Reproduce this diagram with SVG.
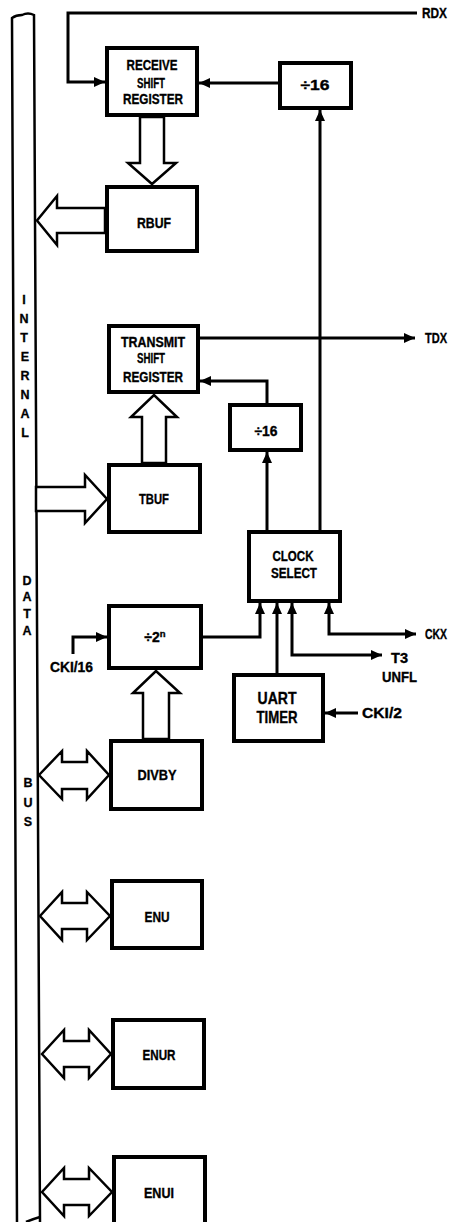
<svg xmlns="http://www.w3.org/2000/svg" width="455" height="1222" viewBox="0 0 455 1222">
<defs>
<marker id="ah" viewBox="0 0 11 10" markerUnits="userSpaceOnUse" markerWidth="11" markerHeight="10" refX="11" refY="5" orient="auto-start-reverse">
<path d="M0,0 L11,5 L0,10 z" fill="#000"/>
</marker>
<style>
.box{fill:#fff;stroke:#000;stroke-width:4}
.ln{fill:none;stroke:#000;stroke-width:3}
.hol{fill:#fff;stroke:#000;stroke-width:2.5;stroke-linejoin:miter}
.t{font-family:"Liberation Sans",Arial,sans-serif;font-weight:bold;font-size:14.5px;text-anchor:middle;fill:#000;stroke:#000;stroke-width:0.35}
.s{text-anchor:start}
.big{font-size:16.5px}
.bl{font-family:"Liberation Sans",Arial,sans-serif;font-weight:bold;font-size:12.5px;text-anchor:middle;fill:#000;stroke:#000;stroke-width:0.3}
</style>
</defs>
<rect width="455" height="1222" fill="#fff"/>

<g id="bus">
<path class="ln" style="stroke-width:2.5" d="M17,1222 L12,18 Q16,15 22,15 Q28,12 34,15 L40,1222"/>
<path class="ln" style="stroke-width:2.5" d="M26,1222 Q33,1219 40,1217"/>
<text class="bl" x="24" y="304">I</text>
<text class="bl" x="24" y="323">N</text>
<text class="bl" x="24" y="342">T</text>
<text class="bl" x="25" y="361">E</text>
<text class="bl" x="25" y="380">R</text>
<text class="bl" x="25" y="399">N</text>
<text class="bl" x="25" y="418">A</text>
<text class="bl" x="25" y="437">L</text>
<text class="bl" x="27" y="585">D</text>
<text class="bl" x="27" y="601">A</text>
<text class="bl" x="27" y="618">T</text>
<text class="bl" x="27" y="635">A</text>
<text class="bl" x="28" y="787">B</text>
<text class="bl" x="28" y="807">U</text>
<text class="bl" x="28" y="826">S</text>
</g>

<g id="connectors">
<path class="ln" d="M417,13 H68 V82 H105" marker-end="url(#ah)"/>
<path class="ln" d="M278,83 H199" marker-end="url(#ah)"/>
<path class="ln" d="M320,530 V110" marker-end="url(#ah)"/>
<path class="ln" d="M200,338 H415" marker-end="url(#ah)"/>
<path class="ln" d="M267,403 V381 H200" marker-end="url(#ah)"/>
<path class="ln" d="M267,530 V452" marker-end="url(#ah)"/>
<path class="ln" d="M73,654 V637 H107" marker-end="url(#ah)"/>
<path class="ln" d="M203,637 H260 V603" marker-end="url(#ah)"/>
<path class="ln" d="M277,673 V603" marker-end="url(#ah)"/>
<path class="ln" d="M292,603 V655 H382" marker-start="url(#ah)" marker-end="url(#ah)"/>
<path class="ln" d="M329,603 V634 H416" marker-start="url(#ah)" marker-end="url(#ah)"/>
<path class="ln" d="M358,713 H325" marker-end="url(#ah)"/>
<polygon class="hol" points="140,117 140,163 128,163 152,184 176,163 164,163 164,117"/>
<polygon class="hol" points="105,208 57,208 57,196 37,220.5 57,245 57,233 105,233"/>
<polygon class="hol" points="142,463 142,417 131,417 154,395 177,417 166,417 166,463"/>
<polygon class="hol" points="36,487 85,487 85,475 107,499 85,523 85,511 36,511"/>
<polygon class="hol" points="143,739 143,693 133,693 156,671 180,693 169,693 169,739"/>
<polygon class="hol" points="39,775 62,751 62,762 87,762 87,751 109,775 87,799 87,789 62,789 62,799"/>
<polygon class="hol" points="40,916 62,892 62,903 87,903 87,892 110,916 87,940 87,929 62,929 62,940"/>
<polygon class="hol" points="42,1054 64,1030 64,1041 89,1041 89,1030 111,1054 89,1078 89,1067 64,1067 64,1078"/>
<polygon class="hol" points="42,1192 64,1168 64,1179 89,1179 89,1168 112,1192 89,1216 89,1205 64,1205 64,1216"/>
<text class="t s" x="422" y="18" textLength="25" lengthAdjust="spacingAndGlyphs">RDX</text>
<text class="t s" x="425" y="343" textLength="22" lengthAdjust="spacingAndGlyphs">TDX</text>
<text class="t s" x="50" y="672" textLength="43" lengthAdjust="spacingAndGlyphs">CKI/16</text>
<text class="t s" x="391" y="663" textLength="17" lengthAdjust="spacingAndGlyphs">T3</text>
<text class="t s" x="382" y="682" textLength="35" lengthAdjust="spacingAndGlyphs">UNFL</text>
<text class="t s" x="425" y="639" textLength="22" lengthAdjust="spacingAndGlyphs">CKX</text>
<text class="t s" x="362" y="718" textLength="40" lengthAdjust="spacingAndGlyphs">CKI/2</text>
</g>

<g id="rsr">
<rect class="box" x="107" y="48" width="90" height="67"/>
<text class="t" x="152" y="70" textLength="51" lengthAdjust="spacingAndGlyphs">RECEIVE</text>
<text class="t" x="151" y="88" textLength="28" lengthAdjust="spacingAndGlyphs">SHIFT</text>
<text class="t" x="153" y="104" textLength="60" lengthAdjust="spacingAndGlyphs">REGISTER</text>
</g>
<g id="div16a">
<rect class="box" x="280" y="63" width="71" height="45"/>
<text class="t" x="315" y="90" textLength="29" lengthAdjust="spacingAndGlyphs">÷16</text>
</g>
<g id="rbuf">
<rect class="box" x="107" y="187" width="90" height="64"/>
<text class="t" x="154" y="228" textLength="34" lengthAdjust="spacingAndGlyphs">RBUF</text>
</g>
<g id="tsr">
<rect class="box" x="109" y="326" width="89" height="66"/>
<text class="t" x="153" y="347" textLength="64" lengthAdjust="spacingAndGlyphs">TRANSMIT</text>
<text class="t" x="151" y="363" textLength="28" lengthAdjust="spacingAndGlyphs">SHIFT</text>
<text class="t" x="153" y="382" textLength="60" lengthAdjust="spacingAndGlyphs">REGISTER</text>
</g>
<g id="div16b">
<rect class="box" x="230" y="405" width="71" height="45"/>
<text class="t" x="266" y="436" textLength="23" lengthAdjust="spacingAndGlyphs">÷16</text>
</g>
<g id="tbuf">
<rect class="box" x="109" y="465" width="91" height="67"/>
<text class="t" x="154" y="504" textLength="30" lengthAdjust="spacingAndGlyphs">TBUF</text>
</g>
<g id="clocksel">
<rect class="box" x="249" y="532" width="91" height="69"/>
<text class="t" x="293" y="561" textLength="41" lengthAdjust="spacingAndGlyphs">CLOCK</text>
<text class="t" x="294" y="578" textLength="46" lengthAdjust="spacingAndGlyphs">SELECT</text>
</g>
<g id="div2n">
<rect class="box" x="109" y="606" width="92" height="62"/>
<text class="t" x="155" y="642" style="font-size:14px">÷2<tspan dy="-5" style="font-size:9.5px">n</tspan></text>
</g>
<g id="uart">
<rect class="box" x="234" y="675" width="89" height="66"/>
<text class="t big" x="277" y="704" textLength="39" lengthAdjust="spacingAndGlyphs">UART</text>
<text class="t big" x="277" y="723" textLength="41" lengthAdjust="spacingAndGlyphs">TIMER</text>
</g>
<g id="divby">
<rect class="box" x="111" y="741" width="91" height="68"/>
<text class="t" x="157" y="780" textLength="39" lengthAdjust="spacingAndGlyphs">DIVBY</text>
</g>
<g id="enu">
<rect class="box" x="112" y="881" width="90" height="67"/>
<text class="t" x="157" y="922" textLength="25" lengthAdjust="spacingAndGlyphs">ENU</text>
</g>
<g id="enur">
<rect class="box" x="113" y="1020" width="91" height="68"/>
<text class="t" x="159" y="1060" textLength="33" lengthAdjust="spacingAndGlyphs">ENUR</text>
</g>
<g id="enui">
<rect class="box" x="114" y="1157" width="91" height="75"/>
<text class="t" x="159" y="1198" textLength="30" lengthAdjust="spacingAndGlyphs">ENUI</text>
</g>
</svg>
